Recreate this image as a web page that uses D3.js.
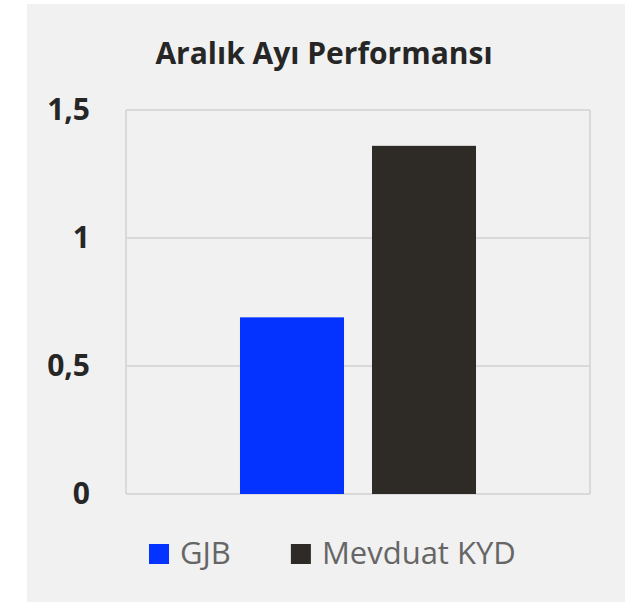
<!DOCTYPE html>
<html>
<head>
<meta charset="utf-8">
<script src="https://cdn.jsdelivr.net/npm/d3@7"></script>
<style>
    body { margin: 0; background: #ffffff; }
    svg { display: block; }
</style>
</head>
<body>
<svg id="chart"></svg>
<script>
    // data
    let categories = ["Aralık"];
    let seriesNames = ["GJB", "Mevduat KYD"];
    let seriesValues = [0.69, 1.36];
    let seriesColors = ["#0433ff", "#2e2b26"];
    let yTicks = [0, 0.5, 1, 1.5];
    let yTickLabels = ["0", "0,5", "1", "1,5"];
    let title = "Aralık Ayı Performansı";

    let width = 625;
    let height = 602;
    let plot = {left: 126, right: 590, top: 110, bottom: 494};

    let svg = d3.select("#chart").attr("width", width).attr("height", height);

    // gray panel
    svg.append("rect")
        .attr("x", 27).attr("y", 4)
        .attr("width", width - 27).attr("height", height - 4)
        .attr("fill", "#f1f1f1");

    svg.append("text")
        .attr("x", 324)
        .attr("y", 64)
        .attr("text-anchor", "middle")
        .style("font", "bold 30px 'Open Sans'")
        .attr("fill", "#262626")
        .text(title);

    let y = d3.scaleLinear().domain([0, 1.5]).range([plot.bottom, plot.top]);

    let x0 = d3.scaleBand().domain(categories).range([plot.left, plot.right]).paddingInner(0).paddingOuter(0.483);
    let x1 = d3.scaleBand().domain(seriesNames).range([0, x0.bandwidth()]).paddingInner(0.212).paddingOuter(0);

    // gridlines
    svg.append("g")
        .selectAll("line")
        .data(yTicks)
        .join("line")
        .attr("x1", plot.left).attr("x2", plot.right)
        .attr("y1", d => y(d)).attr("y2", d => y(d))
        .attr("stroke", "#d9d9d9")
        .attr("stroke-width", 2);

    // plot borders left/right
    svg.append("g")
        .selectAll("line")
        .data([plot.left, plot.right])
        .join("line")
        .attr("x1", d => d).attr("x2", d => d)
        .attr("y1", y(1.5)).attr("y2", y(0))
        .attr("stroke", "#d9d9d9")
        .attr("stroke-width", 2);

    // y labels
    let yAxis = d3.axisLeft(y)
        .tickValues(yTicks)
        .tickFormat((d, i) => yTickLabels[i])
        .tickSize(0)
        .tickPadding(36);

    svg.append("g")
        .attr("transform", `translate(${plot.left},0)`)
        .call(yAxis)
        .call(g => g.select(".domain").remove())
        .call(g => g.selectAll("text")
            .style("font", "bold 30px 'Open Sans'")
            .attr("fill", "#262626"));

    // bars
    svg.append("g")
        .selectAll("g")
        .data(categories)
        .join("g")
        .attr("transform", d => `translate(${x0(d)},0)`)
        .selectAll("rect")
        .data(() => seriesNames.map((name, i) => ({name, value: seriesValues[i], color: seriesColors[i]})))
        .join("rect")
        .attr("x", d => x1(d.name))
        .attr("width", x1.bandwidth())
        .attr("y", d => y(d.value))
        .attr("height", d => y(0) - y(d.value))
        .attr("fill", d => d.color);

    // legend
    let legend = svg.append("g").attr("transform", "translate(149,544)");
    let offset = 0;
    seriesNames.forEach((name, i) =>
    {
        let item = legend.append("g").attr("transform", `translate(${offset},0)`);
        item.append("rect")
            .attr("width", 20).attr("height", 20)
            .attr("fill", seriesColors[i]);
        let t = item.append("text")
            .attr("x", 31)
            .attr("y", 20)
            .style("font", "31px 'Open Sans'")
            .attr("fill", "#666666")
            .text(name);
        offset += 31 + t.node().getComputedTextLength() + 60;
    });
</script>
</body>
</html>
